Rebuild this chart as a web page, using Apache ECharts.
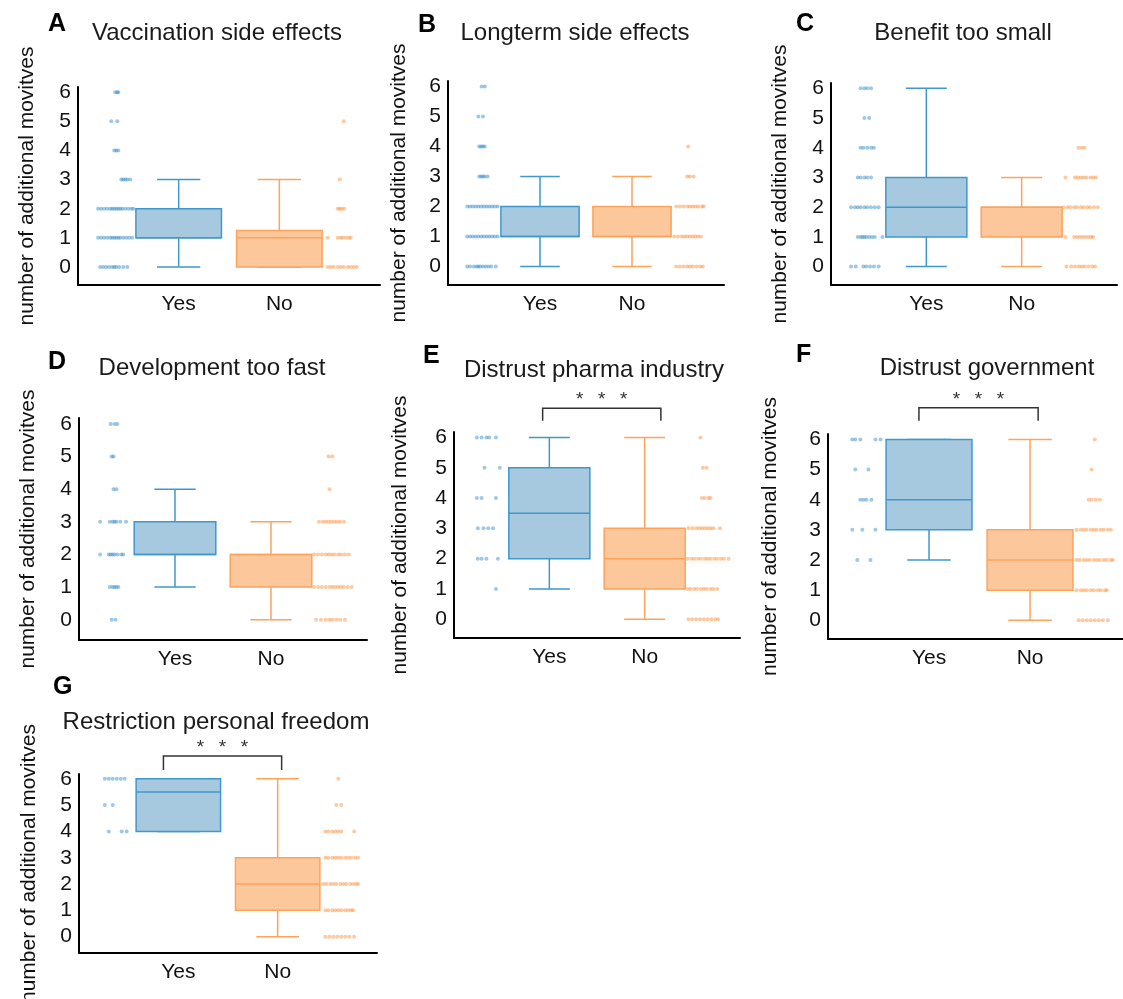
<!DOCTYPE html>
<html>
<head>
<meta charset="utf-8">
<title>Additional motives boxplots</title>
<script src="https://cdn.jsdelivr.net/npm/echarts@6/dist/echarts.min.js"></script>
<style>
	html, body {margin: 0; padding: 0; background: #fff;}
	#main {width: 1123px; height: 999px;}
</style>
</head>
<body>
<div id="main"></div>
<script>
var panelTitles = ['Vaccination side effects', 'Longterm side effects', 'Benefit too small',
	'Development too fast', 'Distrust pharma industry', 'Distrust government', 'Restriction personal freedom'];
var panelLetters = ['A', 'B', 'C', 'D', 'E', 'F', 'G'];
var xTickLabels = ['', 'Yes', 'No', ''];
var yAxisName = 'number of additional movitves';

// [min, q1, median, q3, max]
var yesStats = [[0, 1, 1, 2, 3], [0, 1, 1, 2, 3], [0, 1, 2, 3, 6], [1, 2, 2, 3, 4], [1, 2, 3.5, 5, 6], [2, 3, 4, 6, 6], [4, 4, 5.5, 6, 6]];
var noStats = [[0, 0, 1, 1.25, 3], [0, 1, 1, 2, 3], [0, 1, 2, 2, 3], [0, 1, 2, 2, 3], [0, 1, 2, 3, 6], [0, 1, 2, 3, 6], [0, 1, 2, 3, 6]];

// [left x, right x, leg end, bar, stars]
var sigBrackets = [null, null, null, null, [0.93, 2.17, 6.55, 6.96, 7.40], [0.90, 2.08, 6.62, 7.05, 7.47], [0.85, 2.04, 6.33, 6.86, 7.37]];
var sigStars = ['*', '*', '*'];

// strip dots: [value, [x positions]]
var yesDotsA = [[6, [0.37, 0.39, 0.40]], [5, [0.33, 0.39]], [4, [0.36, 0.38, 0.40]], [3, [0.43, 0.45, 0.47, 0.49, 0.52]],
	[2, [0.20, 0.23, 0.26, 0.29, 0.32, 0.34, 0.36, 0.38, 0.40, 0.42, 0.44, 0.47, 0.50, 0.53, 0.55]],
	[1, [0.20, 0.23, 0.26, 0.29, 0.32, 0.34, 0.36, 0.38, 0.40, 0.42, 0.45, 0.48, 0.51, 0.54]],
	[0, [0.22, 0.25, 0.28, 0.31, 0.34, 0.36, 0.38, 0.41, 0.45, 0.49]]];
var noDotsA = [[5, [2.64]], [3, [2.60]], [2, [2.58, 2.60, 2.62, 2.645]], [1, [2.48, 2.58, 2.61, 2.63, 2.66, 2.69, 2.71]],
	[0, [2.48, 2.51, 2.54, 2.58, 2.61, 2.64, 2.68, 2.71, 2.74, 2.77]]];

var yesDotsB = [[6, [0.365, 0.40]], [5, [0.33, 0.38]], [4, [0.34, 0.36, 0.38, 0.40]], [3, [0.34, 0.36, 0.38, 0.40, 0.43]],
	[2, [0.21, 0.24, 0.27, 0.30, 0.33, 0.36, 0.39, 0.42, 0.45, 0.48, 0.51, 0.54]],
	[1, [0.21, 0.24, 0.27, 0.30, 0.33, 0.36, 0.39, 0.42, 0.45, 0.48, 0.51, 0.54]],
	[0, [0.21, 0.24, 0.28, 0.31, 0.33, 0.35, 0.38, 0.41, 0.44, 0.47, 0.52]]];
var noDotsB = [[4, [2.61]], [3, [2.60, 2.63, 2.67]], [2, [2.48, 2.52, 2.56, 2.60, 2.63, 2.66, 2.69, 2.72, 2.76, 2.78]],
	[1, [2.46, 2.50, 2.54, 2.57, 2.60, 2.63, 2.66, 2.69, 2.72, 2.75]],
	[0, [2.48, 2.52, 2.56, 2.60, 2.63, 2.66, 2.70, 2.74, 2.77]]];

var yesDotsC = [[6, [0.31, 0.35, 0.38, 0.42]], [5, [0.35, 0.40]], [4, [0.31, 0.34, 0.38, 0.42, 0.45]], [3, [0.28, 0.31, 0.35, 0.38, 0.42]],
	[2, [0.21, 0.25, 0.28, 0.31, 0.35, 0.38, 0.42, 0.46, 0.50]],
	[1, [0.28, 0.31, 0.33, 0.35, 0.37, 0.40, 0.43, 0.46, 0.54]],
	[0, [0.21, 0.26, 0.34, 0.37, 0.41, 0.45, 0.50]]];
var noDotsC = [[4, [2.595, 2.63, 2.66]], [3, [2.46, 2.56, 2.59, 2.62, 2.65, 2.68, 2.72, 2.75, 2.78]],
	[2, [2.44, 2.48, 2.51, 2.55, 2.58, 2.62, 2.65, 2.69, 2.72, 2.76, 2.80]],
	[1, [2.46, 2.55, 2.58, 2.61, 2.64, 2.67, 2.70, 2.73, 2.75]],
	[0, [2.47, 2.52, 2.56, 2.60, 2.63, 2.66, 2.70, 2.74, 2.77]]];

var yesDotsD = [[6, [0.33, 0.37, 0.40]], [5, [0.34, 0.36]], [4, [0.36, 0.39]], [3, [0.22, 0.32, 0.35, 0.37, 0.39, 0.43, 0.49]],
	[2, [0.22, 0.31, 0.33, 0.35, 0.37, 0.40, 0.44, 0.46]], [1, [0.32, 0.35, 0.37, 0.39, 0.41]], [0, [0.34, 0.38]]];
var noDotsD = [[5, [2.60, 2.64]], [4, [2.61]], [3, [2.50, 2.54, 2.57, 2.60, 2.63, 2.66, 2.69, 2.72, 2.76]],
	[2, [2.45, 2.49, 2.53, 2.57, 2.60, 2.63, 2.66, 2.70, 2.73, 2.77, 2.81]],
	[1, [2.45, 2.49, 2.53, 2.57, 2.61, 2.64, 2.67, 2.70, 2.73, 2.76, 2.80, 2.84]],
	[0, [2.47, 2.52, 2.57, 2.61, 2.64, 2.68, 2.72, 2.77]]];

var yesDotsE = [[6, [0.24, 0.29, 0.34, 0.37, 0.44]], [5, [0.32, 0.48]], [4, [0.24, 0.29, 0.44]], [3, [0.25, 0.31, 0.36, 0.41]],
	[2, [0.25, 0.29, 0.34, 0.46]], [1, [0.44]]];
var noDotsE = [[6, [2.585]], [5, [2.61, 2.65]], [4, [2.60, 2.63, 2.67, 2.69]],
	[3, [2.46, 2.50, 2.54, 2.57, 2.60, 2.63, 2.66, 2.69, 2.72, 2.79]],
	[2, [2.45, 2.49, 2.52, 2.56, 2.59, 2.63, 2.66, 2.69, 2.73, 2.76, 2.80, 2.83, 2.88]],
	[1, [2.45, 2.48, 2.52, 2.55, 2.59, 2.62, 2.65, 2.69, 2.72, 2.76]],
	[0, [2.46, 2.50, 2.54, 2.58, 2.62, 2.66, 2.70, 2.74, 2.77]]];

var yesDotsF = [[6, [0.24, 0.27, 0.32, 0.47, 0.52]], [5, [0.27, 0.40]], [4, [0.32, 0.35, 0.38, 0.43]], [3, [0.24, 0.34, 0.47]], [2, [0.29, 0.42]]];
var noDotsF = [[6, [2.64]], [5, [2.61]], [4, [2.58, 2.61, 2.65, 2.69]],
	[3, [2.46, 2.50, 2.53, 2.56, 2.60, 2.63, 2.66, 2.70, 2.73, 2.77, 2.80]],
	[2, [2.46, 2.49, 2.53, 2.56, 2.59, 2.63, 2.66, 2.69, 2.73, 2.76, 2.80, 2.82]],
	[1, [2.46, 2.50, 2.53, 2.56, 2.60, 2.63, 2.67, 2.70, 2.74, 2.76]],
	[0, [2.48, 2.52, 2.56, 2.60, 2.64, 2.68, 2.72, 2.77]]];

var yesDotsG = [[6, [0.26, 0.30, 0.34, 0.38, 0.42, 0.46]], [5, [0.26, 0.34]], [4, [0.30, 0.43, 0.48]]];
var noDotsG = [[6, [2.61]], [5, [2.59, 2.64]], [4, [2.48, 2.51, 2.55, 2.58, 2.61, 2.64, 2.77]],
	[3, [2.48, 2.51, 2.55, 2.58, 2.61, 2.64, 2.68, 2.71, 2.74, 2.78, 2.81]],
	[2, [2.46, 2.49, 2.53, 2.56, 2.59, 2.63, 2.66, 2.69, 2.73, 2.76, 2.79, 2.81]],
	[1, [2.48, 2.51, 2.55, 2.58, 2.61, 2.64, 2.68, 2.71, 2.74, 2.76]],
	[0, [2.48, 2.52, 2.56, 2.60, 2.64, 2.68, 2.72, 2.77]]];

var yesDots = [yesDotsA, yesDotsB, yesDotsC, yesDotsD, yesDotsE, yesDotsF, yesDotsG];
var noDots = [noDotsA, noDotsB, noDotsC, noDotsD, noDotsE, noDotsF, noDotsG];

// panel frames (pixels)
var frames = [
	{left: 78, top: 87, width: 302, height: 198, xMax: 3, title: [217, 33], letter: [48, 24], nameGap: 40},
	{left: 448, top: 81, width: 276, height: 204, xMax: 3, title: [575, 33], letter: [418, 25], nameGap: 38},
	{left: 831, top: 83, width: 286, height: 202, xMax: 3, title: [963, 33], letter: [796, 24], nameGap: 40},
	{left: 79, top: 418, width: 288, height: 222, xMax: 3, title: [212, 368], letter: [48, 362], nameGap: 40},
	{left: 454, top: 432, width: 286, height: 206, xMax: 3, title: [594, 370], letter: [423, 356], nameGap: 43},
	{left: 828, top: 434, width: 295, height: 205, xMax: 2.92, title: [987, 368], letter: [796, 355], nameGap: 47},
	{left: 79, top: 774, width: 298, height: 179, xMax: 3, title: [216, 722], letter: [53, 687], nameGap: 39}
];
var Y_MIN = -0.62, Y_MAX = 6.18;
var BOX_WIDTH = 0.85, CAP_WIDTH = 0.43;
var boxColors = [{fill: '#a7c9df', line: '#3f98cc'}, {fill: '#fdc79c', line: '#fca35c'}];
var dotColors = ['#2b86c5', '#fd8a30'];
var FONT = '"Liberation Sans", Arial, sans-serif';

function flattenDots(rows){
	var out = [];
	rows.forEach(function(r){
		r[1].forEach(function(x){ out.push([x, r[0]]); });
	});
	return out;
}

function renderBox(params, api){
	var x = api.value(0);
	var pMin = api.coord([x, api.value(1)]);
	var pQ1 = api.coord([x, api.value(2)]);
	var pMed = api.coord([x, api.value(3)]);
	var pQ3 = api.coord([x, api.value(4)]);
	var pMax = api.coord([x, api.value(5)]);
	var half = api.size([BOX_WIDTH, 0])[0] / 2;
	var cap = api.size([CAP_WIDTH, 0])[0] / 2;
	var c = boxColors[params.dataIndex];
	var cx = pMed[0];
	function ln(x1, y1, x2, y2){
		return {type: 'line', shape: {x1: x1, y1: y1, x2: x2, y2: y2}, style: {stroke: c.line, lineWidth: 1.5}};
	}
	return {type: 'group', children: [
		ln(cx, pMax[1], cx, pQ3[1]),
		ln(cx, pMin[1], cx, pQ1[1]),
		ln(cx - cap, pMax[1], cx + cap, pMax[1]),
		ln(cx - cap, pMin[1], cx + cap, pMin[1]),
		{type: 'rect', shape: {x: cx - half, y: pQ3[1], width: half * 2, height: pQ1[1] - pQ3[1]},
			style: {fill: c.fill, stroke: c.line, lineWidth: 1.5}},
		ln(cx - half, pMed[1], cx + half, pMed[1])
	]};
}

function renderBracket(params, api){
	var l = api.value(0), r = api.value(1);
	var a = api.coord([l, api.value(2)]);
	var b = api.coord([l, api.value(3)]);
	var c = api.coord([r, api.value(3)]);
	var d = api.coord([r, api.value(2)]);
	var s = api.coord([(l + r) / 2, api.value(4)]);
	var kids = [{type: 'polyline', shape: {points: [a, b, c, d]}, style: {stroke: '#333', lineWidth: 1.5, fill: null}}];
	for(var k = 0; k < sigStars.length; k++){
		kids.push({type: 'text', x: s[0] + (k - 1) * 22, y: s[1] + 5,
			style: {text: sigStars[k], fontSize: 19, fontFamily: FONT, fill: '#333', align: 'center', verticalAlign: 'middle'}});
	}
	return {type: 'group', children: kids};
}

function yLabel(v){
	return Math.abs(v - Math.round(v)) < 1e-6 ? String(Math.round(v)) : '';
}
function xLabel(v){
	return Math.abs(v - Math.round(v)) < 1e-6 ? (xTickLabels[Math.round(v)] || '') : '';
}

var titles = [], grids = [], xAxes = [], yAxes = [], series = [];
frames.forEach(function(f, i){
	titles.push({text: panelTitles[i], left: f.title[0], top: f.title[1], textAlign: 'center', textVerticalAlign: 'middle', padding: 0,
		textStyle: {fontSize: 24, fontWeight: 'normal', color: '#1a1a1a', fontFamily: FONT}});
	titles.push({text: panelLetters[i], left: f.letter[0], top: f.letter[1], textAlign: 'left', textVerticalAlign: 'middle', padding: 0,
		textStyle: {fontSize: 25, fontWeight: 'bold', color: '#000', fontFamily: FONT}});
	grids.push({left: f.left, top: f.top, width: f.width, height: f.height, containLabel: false, outerBoundsMode: 'none'});
	xAxes.push({
		gridIndex: i, type: 'value', min: 0, max: f.xMax, interval: 1,
		axisLine: {show: true, onZero: false, lineStyle: {color: '#000', width: 2}},
		axisTick: {show: false}, splitLine: {show: false},
		axisLabel: {fontSize: 21, color: '#111', margin: 9, fontFamily: FONT, formatter: xLabel}
	});
	yAxes.push({
		gridIndex: i, type: 'value', min: Y_MIN, max: Y_MAX, splitNumber: 7,
		axisLine: {show: true, onZero: false, lineStyle: {color: '#000', width: 2}},
		axisTick: {show: false}, splitLine: {show: false},
		axisLabel: {fontSize: 21, color: '#111', margin: 7, fontFamily: FONT, formatter: yLabel},
		name: yAxisName, nameLocation: 'middle', nameGap: f.nameGap, nameRotate: 90,
		nameTextStyle: {fontSize: 21, color: '#111', fontFamily: FONT}
	});
	series.push({
		type: 'scatter', xAxisIndex: i, yAxisIndex: i, silent: true, z: 1,
		symbol: 'circle', symbolSize: 4, data: flattenDots(yesDots[i]),
		itemStyle: {color: dotColors[0], opacity: 0.45}
	});
	series.push({
		type: 'scatter', xAxisIndex: i, yAxisIndex: i, silent: true, z: 1,
		symbol: 'circle', symbolSize: 4, data: flattenDots(noDots[i]),
		itemStyle: {color: dotColors[1], opacity: 0.45}
	});
	series.push({
		type: 'custom', xAxisIndex: i, yAxisIndex: i, silent: true, z: 2,
		renderItem: renderBox, encode: {x: 0, y: [1, 2, 3, 4, 5]},
		data: [[1].concat(yesStats[i]), [2].concat(noStats[i])]
	});
	if(sigBrackets[i]){
		series.push({
			type: 'custom', xAxisIndex: i, yAxisIndex: i, silent: true, clip: false, z: 3,
			renderItem: renderBracket, encode: {x: [0, 1], y: [2, 3, 4]},
			data: [sigBrackets[i]]
		});
	}
});

var chart = echarts.init(document.getElementById('main'));
chart.setOption({
	backgroundColor: '#fff',
	animation: false,
	textStyle: {fontFamily: FONT},
	title: titles,
	grid: grids,
	xAxis: xAxes,
	yAxis: yAxes,
	series: series
});
</script>
</body>
</html>
